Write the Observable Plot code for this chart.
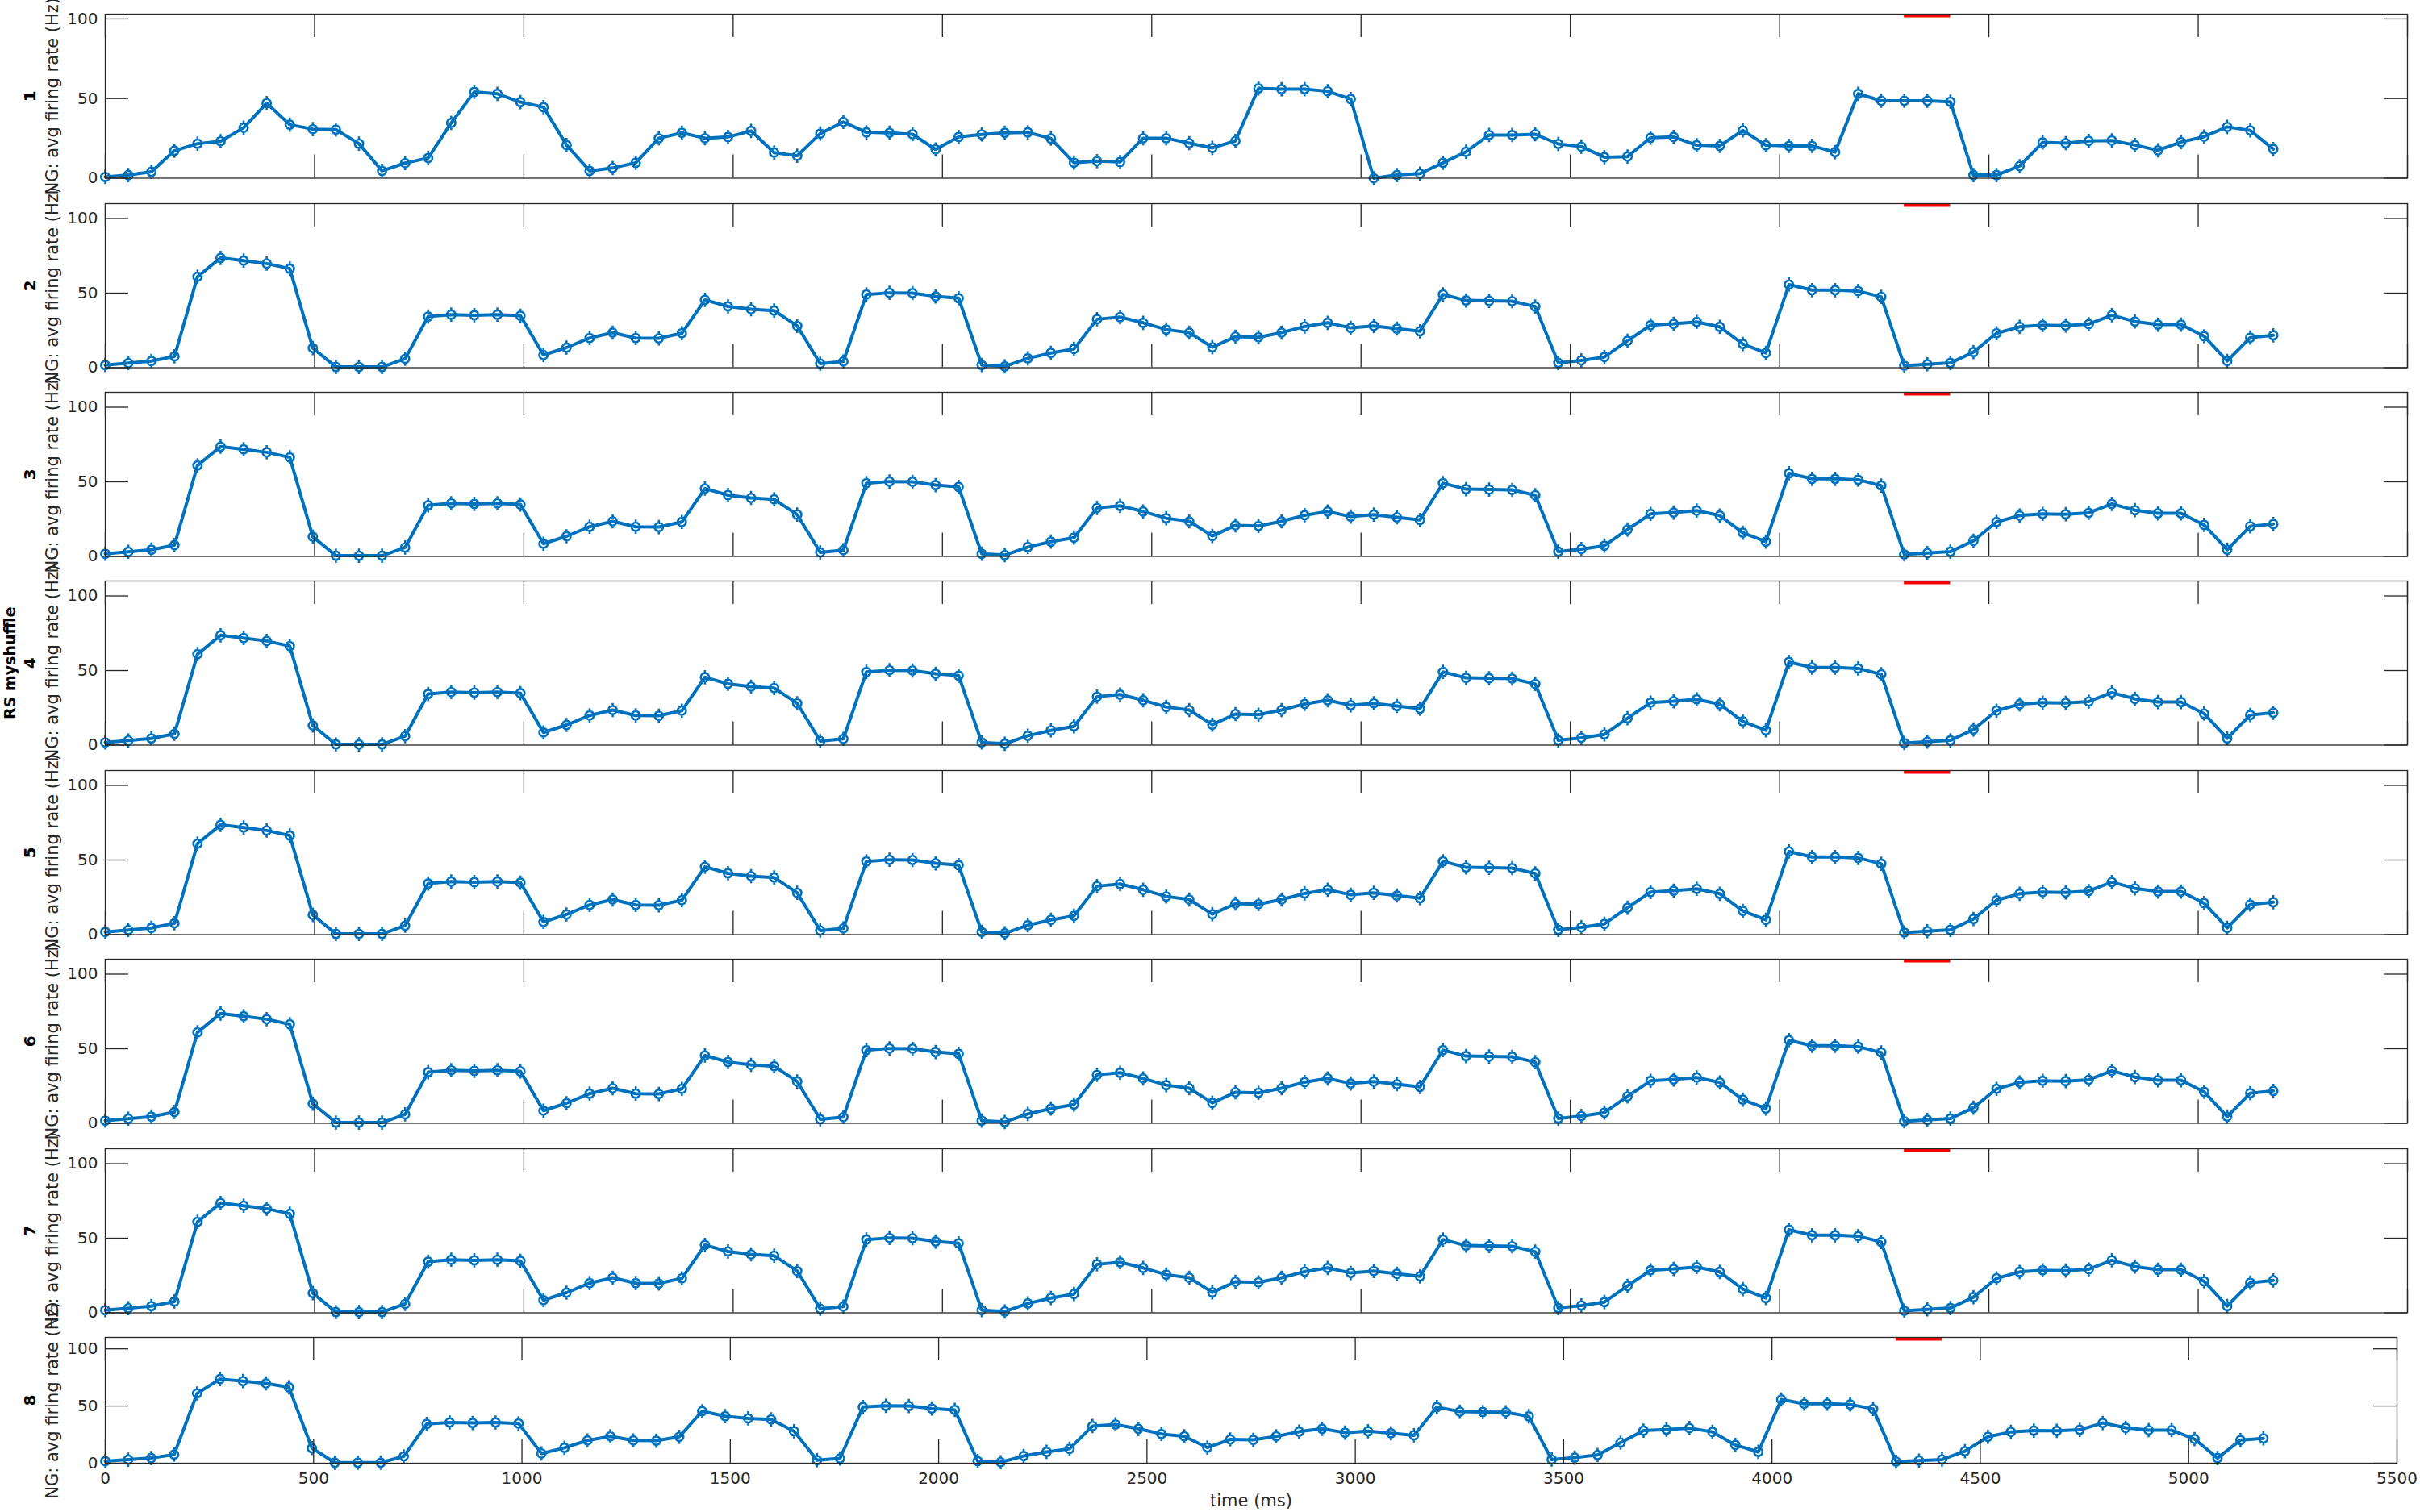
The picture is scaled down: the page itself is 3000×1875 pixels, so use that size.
<!DOCTYPE html>
<html>
<head>
<meta charset="utf-8">
<script src="https://cdn.jsdelivr.net/npm/d3@7"></script>
<script src="https://cdn.jsdelivr.net/npm/@observablehq/plot@0.6"></script>
<style>
  html, body { margin: 0; padding: 0; background: #ffffff; }
  #chart { position: relative; width: 3000px; height: 1875px; background: #ffffff; overflow: hidden; }
</style>
</head>
<body>
<div id="chart"></div>
<script>
// ---------------- DATA ----------------
const timesMs = [0,55.1,110.2,165.3,220.4,275.5,330.6,385.7,440.8,495.9,551,606.1,661.2,716.3,771.4,826.5,881.6,936.7,991.8,1046.9,
  1102,1157.1,1212.2,1267.3,1322.4,1377.5,1432.6,1487.7,1542.8,1597.9,1653,1708.1,1763.2,1818.3,1873.4,1928.5,1983.6,2038.7,2093.8,2148.9,
  2204,2259.1,2314.2,2369.3,2424.4,2479.5,2534.6,2589.7,2644.8,2699.9,2755,2810.1,2865.2,2920.3,2975.4,3030.5,3085.6,3140.7,3195.8,3250.9,
  3306,3361.1,3416.2,3471.3,3526.4,3581.5,3636.6,3691.7,3746.8,3801.9,3857,3912.1,3967.2,4022.3,4077.4,4132.5,4187.6,4242.7,4297.8,4352.9,
  4408,4463.1,4518.2,4573.3,4628.4,4683.5,4738.6,4793.7,4848.8,4903.9,4959,5014.1,5069.2,5124.3,5179.4];

// panel 1
const rateShuffle1 = [0.8,2,4,17.3,21.7,23.2,31.7,47.1,33.6,30.8,30.5,21.7,4.6,9.5,12.7,34.7,54.2,53,47.8,44.6,
  20.8,4.6,6.4,9.7,25.1,28.5,25.1,25.9,29.7,16.1,14.1,28,35.3,28.8,28.5,27.6,18.1,25.9,27.5,28.5,
  28.8,24.9,9.8,10.7,10.2,25.1,25.1,22,19,23.4,56.4,55.9,55.9,54.6,49.7,0,2,2.9,9.7,16.6,
  27.1,27.1,27.6,21.5,19.8,13.2,13.6,25.4,25.9,20.7,20.3,30,20.7,20.3,20.3,16.4,53,48.6,48.6,48.6,
  48,2,2,7.6,22.5,22,23.4,23.7,20.8,17.5,22.7,26.1,32.2,30,18.3];

// panels 2 - 8
const rateShuffleRest = [1.8,3.1,4.5,7.6,61,73.6,71.8,69.8,66.4,13.2,0.5,0.5,0.5,6,34.3,35.6,35.2,35.6,34.8,8.5,
  13.5,19.9,23.5,19.9,19.7,23.1,45.5,41.1,39.2,38.3,28,2.7,4.2,49.1,50.2,50,47.8,46.6,1.8,0.9,
  6.3,9.9,12.6,32.5,33.9,30.1,25.6,23.5,13.7,20.8,20.4,23.5,27.6,30.1,26.7,28,26.2,24.4,49.1,45.1,
  44.8,44.6,41,3.2,4.9,7.2,18,28.5,29.4,30.7,27.4,15.9,9.9,55.7,52,52,51.4,47.5,1.4,2.3,
  3.2,10.5,23.1,27.4,28.5,28.3,29.2,35.2,31,28.9,28.9,21.1,4.5,20.2,21.7];

const panelNames = ["1","2","3","4","5","6","7","8"];
const yLimits = [103,110,110,110,110,110,110,110];
const xTicks = [0,500,1000,1500,2000,2500,3000,3500,4000,4500,5000,5500];
const yTicks = [0,50,100];
const stimWindow = [4297.8, 4408];
const yLabel = "NG: avg firing rate (Hz)";
const groupLabel = "RS myshuffle";
const groupPanel = 3;
const xLabel = "time (ms)";

// ---------------- LAYOUT / STYLE ----------------
const panelTop    = [17, 251.5, 486, 720, 954.5, 1189, 1423.5, 1658];
const panelBottom = [220.5, 455, 689.5, 923.5, 1158, 1392.5, 1627, 1814];
const frameLeft = 130;
const frameRight = [2984, 2984, 2984, 2984, 2984, 2984, 2984, 2971];
const W = 3000;
const tickLen = 29;
const blue = "#0072BD";
const ink = "#262626";

const errMarker = {
  draw(ctx, size) {
    const r = Math.sqrt(size / Math.PI);
    ctx.moveTo(r, 0);
    ctx.arc(0, 0, r, 0, 2 * Math.PI);
    ctx.moveTo(0, -r); ctx.lineTo(0, -r * 1.7);
    ctx.moveTo(0, r); ctx.lineTo(0, r * 1.7);
  }
};

const chart = document.getElementById("chart");

panelNames.forEach((name, i) => {
  const values = i === 0 ? rateShuffle1 : rateShuffleRest;
  const rows = timesMs.map((t, k) => ({t, v: values[k]}));
  const h = panelBottom[i] - panelTop[i];
  const w = frameRight[i] - frameLeft;
  const last = i === panelNames.length - 1;
  const mt = 12;
  const mb = last ? 70 : 12;

  const marks = [
    Plot.ruleY([{x1: stimWindow[0], x2: stimWindow[1], y: yLimits[i]}],
      {x1: "x1", x2: "x2", y: "y", stroke: "#FF0000", strokeWidth: 8, clip: true}),
    Plot.line(rows, {x: "t", y: "v", stroke: blue, strokeWidth: 4, strokeLinejoin: "round"}),
    Plot.dot(rows, {x: "t", y: "v", symbol: errMarker, r: 5.2, stroke: blue, fill: "none", strokeWidth: 2.6}),
    Plot.frame({stroke: ink, strokeWidth: 1.3}),
    Plot.tickX(xTicks, {x: d => d, insetTop: h - tickLen, stroke: ink, strokeWidth: 1.3}),
    Plot.tickX(xTicks, {x: d => d, insetBottom: h - tickLen, stroke: ink, strokeWidth: 1.3}),
    Plot.tickY(yTicks, {y: d => d, insetRight: w - tickLen, stroke: ink, strokeWidth: 1.3}),
    Plot.tickY(yTicks, {y: d => d, insetLeft: w - tickLen, stroke: ink, strokeWidth: 1.3}),
    Plot.axisY({ticks: yTicks, anchor: "left", tickSize: 0, tickPadding: 9, fontSize: 20, label: null, fill: ink, tickFormat: d => String(d)}),
    Plot.text([yLabel], {text: d => d, frameAnchor: "left", dx: -(frameLeft - 65), rotate: -90,
      fontSize: 21, lineAnchor: "middle", textAnchor: "middle", fill: ink}),
    Plot.text([name], {text: d => d, frameAnchor: "left", dx: -(frameLeft - 37), rotate: -90,
      fontSize: 20, fontWeight: "bold", lineAnchor: "middle", textAnchor: "middle", fill: "#000"})
  ];
  if (i === groupPanel) {
    marks.push(Plot.text([groupLabel], {text: d => d, frameAnchor: "left", dx: -(frameLeft - 12), rotate: -90,
      fontSize: 19, fontWeight: "bold", lineAnchor: "middle", textAnchor: "middle", fill: "#000"}));
  }
  if (last) {
    marks.push(Plot.axisX({ticks: xTicks, anchor: "bottom", tickSize: 0, tickPadding: 11, fontSize: 20, label: null, fill: ink, tickFormat: d => String(d)}));
    marks.push(Plot.text([xLabel], {text: d => d, frameAnchor: "bottom", dy: 47, fontSize: 21,
      lineAnchor: "middle", textAnchor: "middle", fill: ink}));
  }

  const svg = Plot.plot({
    width: W,
    height: h + mt + mb,
    marginLeft: frameLeft,
    marginRight: W - frameRight[i],
    marginTop: mt,
    marginBottom: mb,
    x: {domain: [0, 5500], axis: last ? undefined : null},
    y: {domain: [0, yLimits[i]]},
    style: {background: "transparent", overflow: "visible", color: ink, fontFamily: "DejaVu Sans, sans-serif", maxWidth: "none"},
    marks
  });
  svg.style.position = "absolute";
  svg.style.left = "0px";
  svg.style.top = (panelTop[i] - mt) + "px";
  chart.appendChild(svg);
});
</script>
</body>
</html>
